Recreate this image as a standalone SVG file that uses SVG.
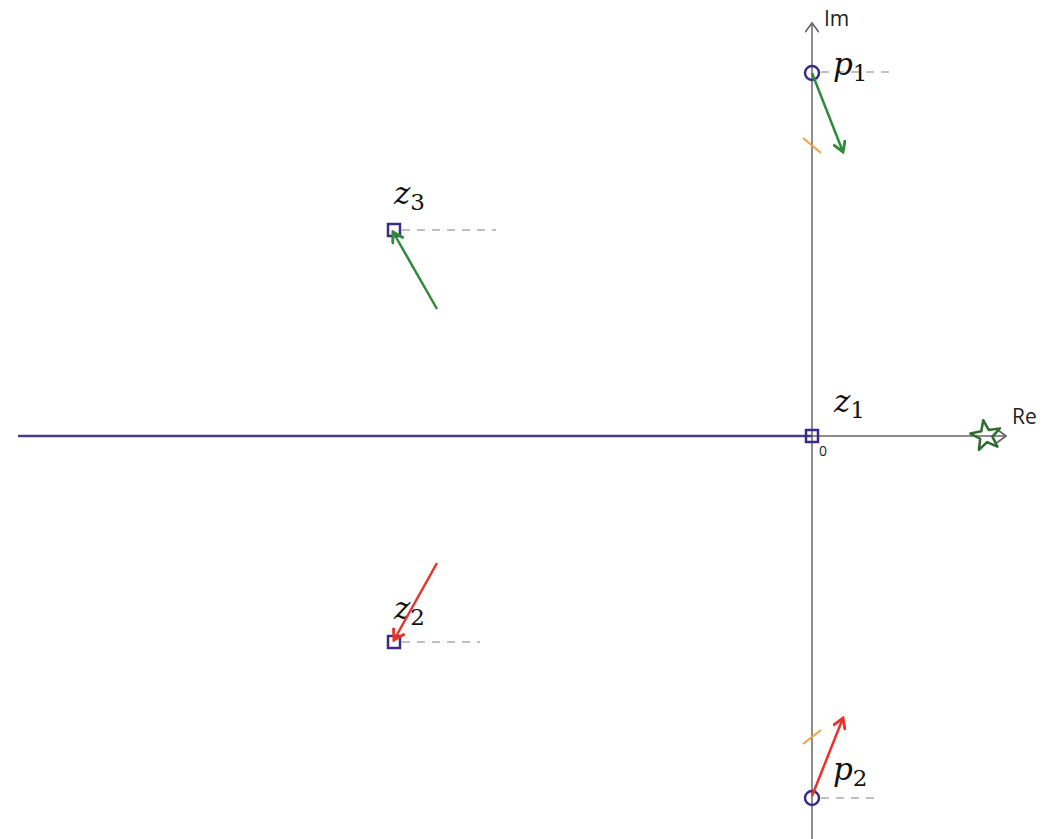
<svg xmlns="http://www.w3.org/2000/svg" width="1054" height="839" viewBox="0 0 1054 839">
<style>
.axis{stroke:#666;stroke-width:1.5;fill:none}
.dash{stroke:#aaa;stroke-width:1.5;stroke-dasharray:8,7;fill:none}
.mark{stroke:#3c2a8a;stroke-width:2.5;fill:none}
.green{stroke:#2e8b3a;stroke-width:2.5;fill:none}
.red{stroke:#e8332a;stroke-width:2.5;fill:none}
.tick{stroke:#f0a040;stroke-width:2;fill:none}
.lbl{font-family:"DejaVu Serif","Liberation Serif",serif;font-style:italic;font-size:31px;fill:#111}
.sub{font-family:"DejaVu Serif","Liberation Serif",serif;font-style:normal;font-size:23px;fill:#111}
.ax{font-family:"Open Sans","Liberation Sans",sans-serif;font-size:21px;fill:#222}
</style>
<defs>
<marker id="ag" markerWidth="14" markerHeight="14" viewBox="-10 -6 12 12" refX="0" refY="0" orient="auto" markerUnits="userSpaceOnUse">
<path d="M-9,-5.5 L0,0 L-9,5.5" fill="none" stroke="#2e8b3a" stroke-width="2.5"/>
</marker>
<marker id="ar" markerWidth="14" markerHeight="14" viewBox="-10 -6 12 12" refX="0" refY="0" orient="auto" markerUnits="userSpaceOnUse">
<path d="M-9,-5.5 L0,0 L-9,5.5" fill="none" stroke="#e8332a" stroke-width="2.5"/>
</marker>
<marker id="ax" markerWidth="14" markerHeight="14" viewBox="-10 -6 12 12" refX="0" refY="0" orient="auto" markerUnits="userSpaceOnUse">
<path d="M-8,-6 L0,0 L-8,6" fill="none" stroke="#666" stroke-width="1.5"/>
</marker>
</defs>
<g id="axes">
<line class="axis" x1="812" y1="839" x2="812" y2="23" marker-end="url(#ax)"/>
<line class="axis" x1="812" y1="436" x2="1006" y2="436" marker-end="url(#ax)"/>
<text class="ax" x="824" y="26">Im</text>
<text class="ax" x="1012" y="424">Re</text>
<text class="ax" x="819" y="456" style="font-size:14px">0</text>
</g>
<g id="locus">
<line x1="18" y1="436" x2="812" y2="436" stroke="#4a3a8c" stroke-width="2.5"/>
</g>
<g id="p1">
<line class="dash" x1="821" y1="72" x2="895" y2="72"/>
<circle class="mark" cx="812" cy="73" r="7"/>
<text class="lbl" x="833" y="75">p<tspan class="sub" dy="6">1</tspan></text>
</g>
<g id="z3">
<line class="dash" x1="402" y1="230" x2="496" y2="230"/>
<rect class="mark" x="388" y="224" width="12" height="12"/>
<text class="lbl" x="394" y="204">z<tspan class="sub" dy="6">3</tspan></text>
</g>
<g id="z1">
<rect class="mark" x="806" y="430" width="12" height="12"/>
<text class="lbl" x="834" y="412">z<tspan class="sub" dy="6">1</tspan></text>
</g>
<g id="z2">
<line class="dash" x1="402" y1="642" x2="480" y2="642"/>
<rect class="mark" x="388" y="636" width="12" height="12"/>
<text class="lbl" x="394" y="619">z<tspan class="sub" dy="6">2</tspan></text>
</g>
<g id="p2">
<line class="dash" x1="821" y1="798" x2="875" y2="798"/>
<circle class="mark" cx="812" cy="798" r="7"/>
<text class="lbl" x="833" y="780">p<tspan class="sub" dy="6">2</tspan></text>
</g>
<g id="star">
<polygon points="986,420 989.8,430.5 1001,430.9 992.2,437.7 995.4,448.5 986,442.2 976.6,448.5 979.8,437.7 971,430.9 982.2,430.5" fill="none" stroke="#2e6b30" stroke-width="2.5" stroke-linejoin="round" transform="rotate(-10 986 436)"/>
</g>
<g id="connectors">
<line class="green" x1="812" y1="73" x2="843" y2="152" marker-end="url(#ag)"/>
<line class="green" x1="437" y1="309" x2="393" y2="232" marker-end="url(#ag)"/>
<line class="red" x1="437" y1="563" x2="394" y2="640" marker-end="url(#ar)"/>
<line class="red" x1="812" y1="796" x2="843" y2="718" marker-end="url(#ar)"/>
<line class="tick" x1="803" y1="138" x2="821" y2="153"/>
<line class="tick" x1="803" y1="744" x2="821" y2="730"/>
</g>
</svg>
